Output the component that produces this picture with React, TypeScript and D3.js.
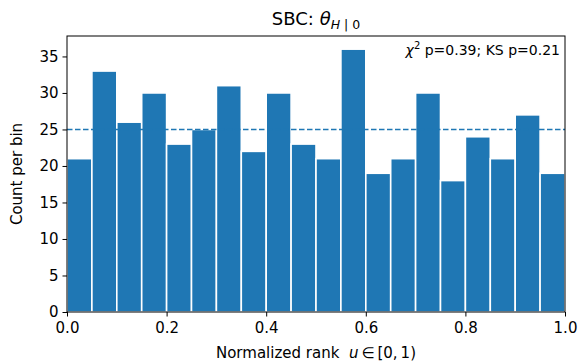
import React, { useRef, useEffect } from "react";
import * as d3 from "d3";

// bin counts, 20 equal bins on [0, 1)
const counts = [21, 33, 26, 30, 23, 25, 31, 22, 30, 23, 21, 36, 19, 21, 30, 18, 24, 21, 27, 19];
const xTicks = [0, 0.2, 0.4, 0.6, 0.8, 1.0];
const yTicks = [0, 5, 10, 15, 20, 25, 30, 35];
const expected = 25;
const statsText = "p=0.39; KS p=0.21";

const W = 585;
const H = 364;
const margin = { top: 36, right: 20, bottom: 52, left: 67 };
const blue = "#1f77b4";
const font = "DejaVu Sans, sans-serif";

function App() {
  const svgRef = useRef<SVGSVGElement>(null);

  useEffect(() => {
    const svg = d3.select(svgRef.current);
    svg.selectAll("*").remove();

    const x = d3.scaleLinear().domain([0, 1]).range([margin.left, W - margin.right]);
    const y = d3.scaleLinear().domain([0, 37.8]).range([H - margin.bottom, margin.top]);
    const binW = 1 / counts.length;

    // bars with white edges
    svg
      .append("g")
      .selectAll("rect")
      .data(counts)
      .join("rect")
      .attr("x", (_, i) => x(i * binW))
      .attr("y", (d) => y(d))
      .attr("width", x(binW) - x(0))
      .attr("height", (d) => y(0) - y(d))
      .attr("fill", blue)
      .attr("stroke", "white")
      .attr("stroke-width", 1.6);

    // expected count line
    svg
      .append("line")
      .attr("x1", x(0))
      .attr("x2", x(1))
      .attr("y1", y(expected))
      .attr("y2", y(expected))
      .attr("stroke", blue)
      .attr("stroke-width", 1.5)
      .attr("stroke-dasharray", "5.5,2.5");

    // frame
    svg
      .append("rect")
      .attr("x", x(0))
      .attr("y", y(37.8))
      .attr("width", x(1) - x(0))
      .attr("height", y(0) - y(37.8))
      .attr("fill", "none")
      .attr("stroke", "black")
      .attr("stroke-width", 1);

    const xAxis = svg
      .append("g")
      .attr("transform", `translate(0,${y(0)})`)
      .call(d3.axisBottom(x).tickValues(xTicks).tickFormat(d3.format(".1f")).tickSize(4.5).tickPadding(4));
    const yAxis = svg
      .append("g")
      .attr("transform", `translate(${x(0)},0)`)
      .call(d3.axisLeft(y).tickValues(yTicks).tickSize(4.5).tickPadding(4));

    [xAxis, yAxis].forEach((g) => {
      g.select(".domain").remove();
      g.selectAll("text").attr("font-family", font).attr("font-size", 15).attr("fill", "#000");
      g.selectAll("line").attr("stroke", "#000");
    });
    xAxis.selectAll("text").attr("dy", "0.85em");

    // title
    const title = svg
      .append("text")
      .attr("x", (x(0) + x(1)) / 2)
      .attr("y", 25)
      .attr("text-anchor", "middle")
      .attr("font-family", font)
      .attr("font-size", 18);
    title.append("tspan").text("SBC: ");
    title.append("tspan").attr("font-style", "italic").text("θ");
    title
      .append("tspan")
      .attr("font-style", "italic")
      .attr("font-size", 12.5)
      .attr("dy", 4)
      .text("H");
    title.append("tspan").attr("font-size", 12.5).text("\u00a0|\u00a00");

    // stats annotation
    const st = svg
      .append("text")
      .attr("x", x(1) - 5)
      .attr("y", 55)
      .attr("text-anchor", "end")
      .attr("font-family", font)
      .attr("font-size", 14);
    st.append("tspan").attr("font-style", "italic").text("χ");
    st.append("tspan").attr("font-size", 10).attr("dy", -6).text("2");
    st.append("tspan").attr("dy", 6).text("\u00a0" + statsText);

    // axis labels
    const xl = svg
      .append("text")
      .attr("x", (x(0) + x(1)) / 2)
      .attr("y", 358)
      .attr("text-anchor", "middle")
      .attr("font-family", font)
      .attr("font-size", 15);
    xl.append("tspan").text("Normalized rank\u00a0\u00a0");
    xl.append("tspan").attr("font-style", "italic").text("u");
    xl.append("tspan").text("\u2009∈\u2009[0,\u20091)");

    svg
      .append("text")
      .attr("transform", `translate(22,${(y(0) + y(37.8)) / 2}) rotate(-90)`)
      .attr("text-anchor", "middle")
      .attr("font-family", font)
      .attr("font-size", 15)
      .text("Count per bin");
  }, []);

  return (
    <div style={{ position: "absolute", left: 0, top: 0 }}>
      <svg ref={svgRef} width={W} height={H} style={{ display: "block", background: "white" }}></svg>
    </div>
  );
}

export default App;
